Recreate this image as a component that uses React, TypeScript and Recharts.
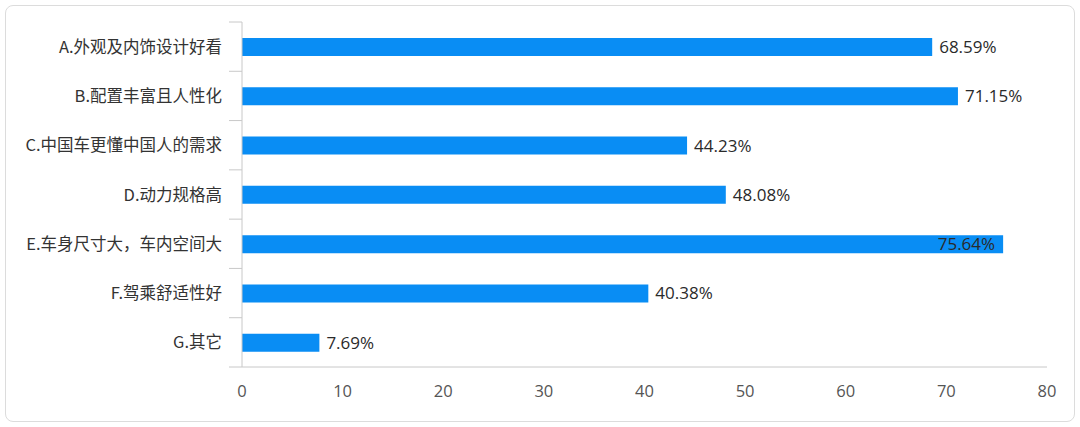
import React from 'react';
import { BarChart, Bar, XAxis, YAxis, LabelList } from 'recharts';

const categories = [
  'A.外观及内饰设计好看',
  'B.配置丰富且人性化',
  'C.中国车更懂中国人的需求',
  'D.动力规格高',
  'E.车身尺寸大，车内空间大',
  'F.驾乘舒适性好',
  'G.其它',
];
const values = [68.59, 71.15, 44.23, 48.08, 75.64, 40.38, 7.69];
const xTicks = [0, 10, 20, 30, 40, 50, 60, 70, 80];

const data = categories.map((name, i) => ({ name, value: values[i] }));

const TOP = 22;
const BOTTOM_GAP = 60;
const H = 427;
const BAND = (H - BOTTOM_GAP - TOP) / categories.length;
const FONT = '"Noto Sans CJK SC", "Microsoft YaHei", sans-serif';
const NUM_FONT = '"Open Sans", "Noto Sans", sans-serif';

const YTick = (props: any) => {
  const { x, y, payload, index } = props;
  const axisX = x + 8;
  return (
    <g>
      <line x1={axisX - 13} x2={axisX} y1={y - BAND / 2} y2={y - BAND / 2} stroke="#c8c8c8" />
      {index === categories.length - 1 && (
        <line x1={axisX - 13} x2={axisX} y1={y + BAND / 2} y2={y + BAND / 2} stroke="#c8c8c8" />
      )}
      <text x={x - 12} y={y} dy={6} textAnchor="end" fontSize={16.5} fill="#333" fontFamily={FONT}>
        {payload.value}
      </text>
    </g>
  );
};

const ValueLabel = (props: any) => {
  const { x, y, width, height, value } = props;
  const inside = value > 75;
  const tx = inside ? x + width - 8 : x + width + 7;
  return (
    <text
      x={tx}
      y={y + height / 2}
      dy={6}
      textAnchor={inside ? 'end' : 'start'}
      fontSize={17}
      fill="#2a2a2a"
      fontFamily={NUM_FONT}
    >
      {value.toFixed(2)}%
    </text>
  );
};

export default function App() {
  return (
    <div style={{ position: 'fixed', left: 0, top: 0, width: 1080, height: 427, background: '#fff' }}>
      <div
        style={{
          position: 'absolute',
          left: 5,
          top: 5,
          width: 1068,
          height: 415,
          border: '1px solid #dcdcdc',
          borderRadius: 8,
        }}
      />
      <div style={{ position: 'absolute', left: 0, top: 0 }}>
        <BarChart
          width={1080}
          height={H}
          data={data}
          layout="vertical"
          margin={{ top: TOP, right: 33, bottom: 0, left: 0 }}
        >
          <XAxis
            type="number"
            domain={[0, 80]}
            ticks={xTicks}
            height={BOTTOM_GAP}
            axisLine={{ stroke: '#c8c8c8' }}
            tickLine={false}
            tick={{ fontSize: 16.5, fill: '#555', fontFamily: NUM_FONT }}
            tickMargin={12}
          />
          <YAxis
            type="category"
            dataKey="name"
            width={242}
            axisLine={{ stroke: '#c8c8c8' }}
            tickLine={false}
            tick={<YTick />}
            interval={0}
          />
          <Bar dataKey="value" fill="#098df4" barSize={18} isAnimationActive={false}>
            <LabelList dataKey="value" content={<ValueLabel />} />
          </Bar>
        </BarChart>
      </div>
    </div>
  );
}
